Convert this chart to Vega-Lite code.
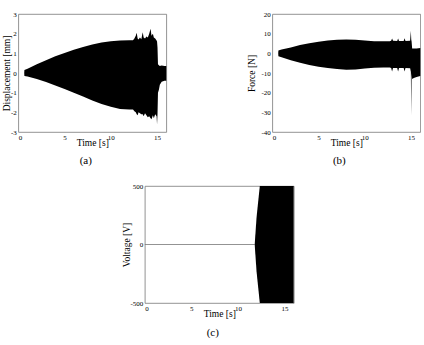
{
  "$schema": "https://vega.github.io/schema/vega-lite/v6.json",
  "padding": {"left": 1, "top": 9, "right": 0, "bottom": 0},
  "background": "white",
  "datasets": {
    "disp": [
      {"t": 0.64, "hi": 0, "lo": 0}, {"t": 0.66, "hi": 0.15, "lo": -0.15}, {"t": 1, "hi": 0.22, "lo": -0.18},
      {"t": 2, "hi": 0.45, "lo": -0.3}, {"t": 3, "hi": 0.65, "lo": -0.46}, {"t": 4, "hi": 0.85, "lo": -0.63},
      {"t": 5, "hi": 1.02, "lo": -0.81}, {"t": 6, "hi": 1.18, "lo": -1.0}, {"t": 7, "hi": 1.32, "lo": -1.2},
      {"t": 8, "hi": 1.45, "lo": -1.4}, {"t": 9, "hi": 1.55, "lo": -1.57}, {"t": 10, "hi": 1.62, "lo": -1.72},
      {"t": 11, "hi": 1.65, "lo": -1.83}, {"t": 12, "hi": 1.66, "lo": -1.85}, {"t": 12.4, "hi": 1.67, "lo": -1.86},
      {"t": 12.55, "hi": 1.75, "lo": -1.95}, {"t": 12.7, "hi": 1.9, "lo": -2.0}, {"t": 12.8, "hi": 2.05, "lo": -2.1},
      {"t": 12.9, "hi": 1.75, "lo": -2.15}, {"t": 13.0, "hi": 1.7, "lo": -2.0}, {"t": 13.15, "hi": 1.8, "lo": -2.05},
      {"t": 13.3, "hi": 1.72, "lo": -2.1}, {"t": 13.45, "hi": 2.07, "lo": -2.1}, {"t": 13.55, "hi": 1.8, "lo": -2.2},
      {"t": 13.7, "hi": 1.75, "lo": -2.05}, {"t": 13.85, "hi": 1.85, "lo": -2.15}, {"t": 14.0, "hi": 1.8, "lo": -2.25},
      {"t": 14.15, "hi": 2.0, "lo": -2.2}, {"t": 14.3, "hi": 2.25, "lo": -2.3}, {"t": 14.4, "hi": 1.9, "lo": -2.35},
      {"t": 14.55, "hi": 2.0, "lo": -2.15}, {"t": 14.65, "hi": 1.8, "lo": -2.3}, {"t": 14.8, "hi": 1.75, "lo": -2.1},
      {"t": 14.95, "hi": 1.65, "lo": -2.2}, {"t": 15.0, "hi": 1.6, "lo": -2.6}, {"t": 15.05, "hi": 1.3, "lo": -2.1},
      {"t": 15.1, "hi": 0.45, "lo": -1.0}, {"t": 15.2, "hi": 0.4, "lo": -0.85}, {"t": 15.3, "hi": 0.35, "lo": -0.6},
      {"t": 15.5, "hi": 0.38, "lo": -0.45}, {"t": 15.8, "hi": 0.36, "lo": -0.4}, {"t": 16, "hi": 0.35, "lo": -0.4}
    ],
    "force": [
      {"t": 0.64, "hi": 0, "lo": 0}, {"t": 0.66, "hi": 1.5, "lo": -1.5}, {"t": 1, "hi": 1.9, "lo": -2.0},
      {"t": 2, "hi": 3.0, "lo": -3.5}, {"t": 3, "hi": 4.2, "lo": -4.8}, {"t": 4, "hi": 5.1, "lo": -5.9},
      {"t": 5, "hi": 5.9, "lo": -6.8}, {"t": 6, "hi": 6.5, "lo": -7.5}, {"t": 7, "hi": 6.9, "lo": -8.0},
      {"t": 8, "hi": 7.0, "lo": -8.3}, {"t": 9, "hi": 6.9, "lo": -8.2}, {"t": 10, "hi": 6.5, "lo": -7.7},
      {"t": 11, "hi": 6.2, "lo": -7.3}, {"t": 12, "hi": 6.1, "lo": -7.2}, {"t": 12.7, "hi": 6.2, "lo": -7.2},
      {"t": 12.85, "hi": 6.4, "lo": -7.5}, {"t": 12.95, "hi": 7.6, "lo": -9.2}, {"t": 13.05, "hi": 6.4, "lo": -7.5},
      {"t": 13.5, "hi": 6.3, "lo": -7.4}, {"t": 13.6, "hi": 7.6, "lo": -9.3}, {"t": 13.7, "hi": 6.3, "lo": -7.5},
      {"t": 14.2, "hi": 6.3, "lo": -7.5}, {"t": 14.3, "hi": 7.7, "lo": -9.3}, {"t": 14.4, "hi": 6.3, "lo": -7.5},
      {"t": 14.9, "hi": 6.4, "lo": -7.6}, {"t": 14.98, "hi": 11.5, "lo": -9.5}, {"t": 15.02, "hi": 7, "lo": -31.5},
      {"t": 15.06, "hi": 6, "lo": -10}, {"t": 15.12, "hi": 2.5, "lo": -13}, {"t": 15.3, "hi": 2.4, "lo": -12.5},
      {"t": 15.6, "hi": 2.5, "lo": -12}, {"t": 16, "hi": 2.7, "lo": -11.5}
    ],
    "voltZero": [{"t": 0, "v": 0}, {"t": 11.8, "v": 0}],
    "volt": [
      {"t": 11.8, "hi": 0, "lo": 0}, {"t": 12.0, "hi": 230, "lo": -230}, {"t": 12.35, "hi": 500, "lo": -500},
      {"t": 16, "hi": 500, "lo": -500}
    ],
    "voltGaps": [{"t": 13.0}, {"t": 13.57}, {"t": 14.18}, {"t": 14.8}, {"t": 15.25}]
  },
  "vconcat": [
    {
      "hconcat": [
        {
          "width": 148, "height": 118,
          "data": {"name": "disp"},
          "mark": {"type": "area", "color": "black"},
          "encoding": {
            "x": {"field": "t", "type": "quantitative", "scale": {"domain": [0, 16], "nice": false}, "axis": {"values": [0, 5, 10, 15], "title": "Time [s]"}},
            "y": {"field": "hi", "type": "quantitative", "scale": {"domain": [-3, 3], "nice": false}, "axis": {"values": [-3, -2, -1, 0, 1, 2, 3], "title": "Displacement [mm]", "titlePadding": -1}},
            "y2": {"field": "lo"}
          },
          "title": {"text": "(a)", "orient": "bottom", "dx": -6.5, "offset": 8}
        },
        {
          "width": 148, "height": 118,
          "data": {"name": "force"},
          "mark": {"type": "area", "color": "black"},
          "encoding": {
            "x": {"field": "t", "type": "quantitative", "scale": {"domain": [0, 16], "nice": false}, "axis": {"values": [0, 5, 10, 15], "title": "Time [s]"}},
            "y": {"field": "hi", "type": "quantitative", "scale": {"domain": [-40, 20], "nice": false}, "axis": {"values": [-40, -30, -20, -10, 0, 10, 20], "title": "Force [N]", "titlePadding": 4}},
            "y2": {"field": "lo"}
          },
          "title": {"text": "(b)", "orient": "bottom", "dx": -7, "offset": 8}
        }
      ],
      "bounds": "flush",
      "spacing": 106
    },
    {
      "width": 149, "height": 117,
      "layer": [
        {
          "data": {"name": "voltZero"},
          "mark": {"type": "line", "color": "#777", "strokeWidth": 0.8},
          "encoding": {
            "x": {"field": "t", "type": "quantitative"},
            "y": {"field": "v", "type": "quantitative"}
          }
        },
        {
          "data": {"name": "volt"},
          "mark": {"type": "area", "color": "black", "clip": true},
          "encoding": {
            "x": {"field": "t", "type": "quantitative"},
            "y": {"field": "hi", "type": "quantitative"},
            "y2": {"field": "lo"}
          }
        },
        {
          "data": {"name": "voltGaps"},
          "mark": {"type": "rule", "color": "#3a3a3a", "strokeWidth": 0.6},
          "encoding": {
            "x": {"field": "t", "type": "quantitative"}
          }
        }
      ],
      "encoding": {
        "x": {"field": "t", "type": "quantitative", "scale": {"domain": [0, 16], "nice": false}, "axis": {"values": [0, 5, 10, 15], "title": "Time [s]"}},
        "y": {"field": "v", "type": "quantitative", "scale": {"domain": [-500, 500], "nice": false}, "axis": {"values": [-500, 0, 500], "title": "Voltage [V]", "titlePadding": -2}}
      },
      "title": {"text": "(c)", "orient": "bottom", "dx": -6.5, "offset": 9}
    }
  ],
  "spacing": 15,
  "center": true,
  "config": {
    "view": {"stroke": "#777", "strokeWidth": 0.8},
    "title": {"font": "Liberation Serif", "fontSize": 11, "fontWeight": "normal", "color": "#000"},
    "axis": {
      "labelFont": "Liberation Serif", "labelFontSize": 7, "titleFont": "Liberation Serif", "titleFontSize": 9.5,
      "titleFontWeight": "normal", "grid": false, "domain": false, "ticks": false, "labelPadding": 2,
      "labelColor": "#000", "titleColor": "#000", "labelExpr": "replace(datum.label, '−', '-')"
    },
    "axisX": {"labelPadding": 1, "titlePadding": -3}
  }
}
